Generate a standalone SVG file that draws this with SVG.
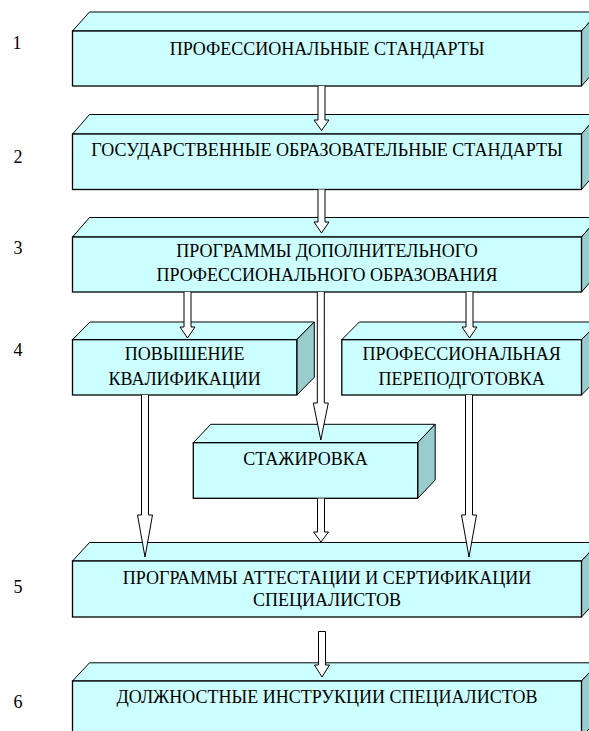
<svg xmlns="http://www.w3.org/2000/svg" width="589" height="731" viewBox="0 0 589 731">
<style>
.front{fill:#CCFFFF;stroke:#000;stroke-width:1.3}
.top{fill:#CCFFFF;stroke:#000;stroke-width:1}
.side{fill:#99CCCC;stroke:#000;stroke-width:1}
.t{font-family:"Liberation Serif","Times New Roman",serif;font-size:18px;fill:#000;text-anchor:middle}
.n{font-family:"Liberation Serif","Times New Roman",serif;font-size:18px;fill:#000;text-anchor:middle}
.arr{fill:#fff;stroke:#000;stroke-width:1}
</style>
<rect width="589" height="731" fill="#fff"/>
<g id="numbers">
<text class="n" x="17" y="49">1</text>
<text class="n" x="18" y="163">2</text>
<text class="n" x="18" y="254">3</text>
<text class="n" x="18" y="356">4</text>
<text class="n" x="18" y="593">5</text>
<text class="n" x="18" y="708">6</text>
</g>
<g id="n1">
<polygon class="top" points="72.5,31 89.5,12 598.5,12 581.5,31"/>
<polygon class="side" points="581.5,31 598.5,12 598.5,67 581.5,86"/>
<rect class="front" x="72.5" y="31" width="509" height="55"/>
<text class="t" x="327" y="55">ПРОФЕССИОНАЛЬНЫЕ СТАНДАРТЫ</text>
</g>
<g id="n2">
<polygon class="top" points="72.5,134 89.5,114.5 598.5,114.5 581.5,134"/>
<polygon class="side" points="581.5,134 598.5,114.5 598.5,170 581.5,189.5"/>
<rect class="front" x="72.5" y="134" width="509" height="55.5"/>
<text class="t" x="327" y="156">ГОСУДАРСТВЕННЫЕ ОБРАЗОВАТЕЛЬНЫЕ СТАНДАРТЫ</text>
</g>
<g id="n3">
<polygon class="top" points="72.5,237 89.5,217.5 598.5,217.5 581.5,237"/>
<polygon class="side" points="581.5,237 598.5,217.5 598.5,272.5 581.5,292"/>
<rect class="front" x="72.5" y="237" width="509" height="55"/>
<text class="t" x="327" y="257">ПРОГРАММЫ ДОПОЛНИТЕЛЬНОГО</text>
<text class="t" x="327" y="281">ПРОФЕССИОНАЛЬНОГО ОБРАЗОВАНИЯ</text>
</g>
<g id="n4a">
<polygon class="top" points="72.5,339.7 90,322 314.3,322 296.8,339.7"/>
<polygon class="side" points="296.8,339.7 314.3,322 314.3,377.3 296.8,395"/>
<rect class="front" x="72.5" y="339.7" width="224.3" height="55.3"/>
<text class="t" x="184.7" y="360">ПОВЫШЕНИЕ</text>
<text class="t" x="184.7" y="385">КВАЛИФИКАЦИИ</text>
</g>
<g id="n4b">
<polygon class="top" points="341.8,339.7 359.3,322 599,322 581.5,339.7"/>
<polygon class="side" points="581.5,339.7 599,322 599,377.3 581.5,395"/>
<rect class="front" x="341.8" y="339.7" width="239.7" height="55.3"/>
<text class="t" x="461.6" y="360">ПРОФЕССИОНАЛЬНАЯ</text>
<text class="t" x="461.6" y="385">ПЕРЕПОДГОТОВКА</text>
</g>
<g id="n4c">
<polygon class="top" points="193.3,442.7 210.8,424.3 435.2,424.3 417.7,442.7"/>
<polygon class="side" points="417.7,442.7 435.2,424.3 435.2,480 417.7,498.3"/>
<rect class="front" x="193.3" y="442.7" width="224.4" height="55.6"/>
<text class="t" x="305.5" y="465">СТАЖИРОВКА</text>
</g>
<g id="n5">
<polygon class="top" points="72.5,561 89.5,542.5 598.5,542.5 581.5,561"/>
<polygon class="side" points="581.5,561 598.5,542.5 598.5,598.5 581.5,617"/>
<rect class="front" x="72.5" y="561" width="509" height="56"/>
<text class="t" x="327" y="584">ПРОГРАММЫ АТТЕСТАЦИИ И СЕРТИФИКАЦИИ</text>
<text class="t" x="327" y="606">СПЕЦИАЛИСТОВ</text>
</g>
<g id="n6">
<polygon class="top" points="72.5,681 89.5,662.8 598.5,662.8 581.5,681"/>
<polygon class="side" points="581.5,681 598.5,662.8 598.5,718.8 581.5,737"/>
<rect class="front" x="72.5" y="681" width="509" height="56"/>
<text class="t" x="327" y="703">ДОЛЖНОСТНЫЕ ИНСТРУКЦИИ СПЕЦИАЛИСТОВ</text>
</g>
<g id="connectors">
<path class="arr" d="M318,86 V120 H314 L321.5,130.5 L329,120 H325 V86"/>
<path class="arr" d="M318,189.5 V222 H314 L321.5,233 L329,222 H325 V189.5"/>
<path class="arr" d="M184,292 V327 H180 L187.5,338 L195,327 H191 V292"/>
<path class="arr" d="M466,292 V327 H462 L469.5,338 L477,327 H473 V292"/>
<path class="arr" d="M317.3,292 V403 H313.3 L320.8,440 L328.3,403 H324.3 V292"/>
<path class="arr" d="M141.5,395 V515 H137.5 L145,557 L152.5,515 H148.5 V395"/>
<path class="arr" d="M465.5,395 V515 H461.5 L469,557 L476.5,515 H472.5 V395"/>
<path class="arr" d="M317.5,498.5 V532 H313.5 L321,542 L328.5,532 H324.5 V498.5"/>
<path class="arr" d="M318.5,631.5 V665 H314.5 L322,677 L329.5,665 H325.5 V631.5 Z"/>
</g>
</svg>
